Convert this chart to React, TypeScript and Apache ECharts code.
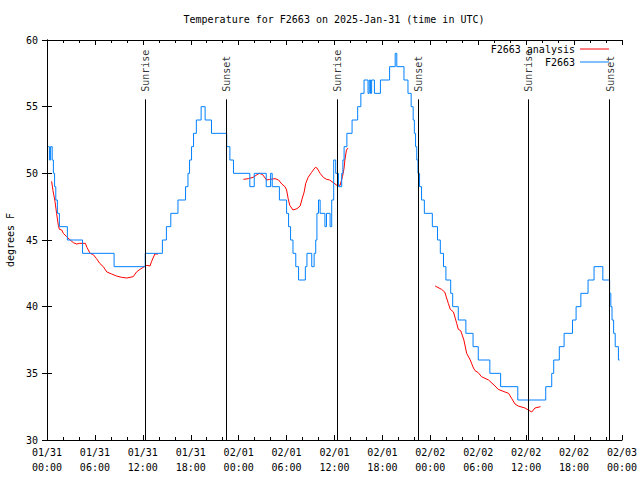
import React, { useEffect, useRef } from "react";
import * as echarts from "echarts";

// ---- Data (hours since 2025-01-31 00:00 UTC) ----
const tickLabels = [
  "01/31\n00:00", "01/31\n06:00", "01/31\n12:00", "01/31\n18:00",
  "02/01\n00:00", "02/01\n06:00", "02/01\n12:00", "02/01\n18:00",
  "02/02\n00:00", "02/02\n06:00", "02/02\n12:00", "02/02\n18:00",
  "02/03\n00:00",
];

const eventHours = [12.27, 22.41, 36.35, 46.5, 60.27, 70.45];
const eventNames = ["Sunrise", "Sunset", "Sunrise", "Sunset", "Sunrise", "Sunset"];

// Observed station temperatures (degrees F), level starts
const stationHours = [
  0.15, 0.3, 0.45, 0.65, 0.8, 0.95, 1.1, 1.3, 1.55, 2.55, 4.45, 8.4, 12.3,
  14.45, 14.95, 15.5, 16.4, 17.35, 17.65, 17.85, 18.1, 18.35, 18.7, 19.3, 19.8,
  20.6, 22.5, 22.9, 23.35, 25.4, 25.95, 27.45, 28.0, 28.2, 29.1, 30.0, 30.25,
  30.5, 30.8, 31.15, 31.5, 32.35, 32.55, 33.15, 33.45, 33.65, 33.8, 34.0, 34.2,
  34.8, 35.0, 35.45, 35.65, 35.9, 36.15, 36.5, 36.9, 37.05, 37.2, 37.55, 38.2,
  38.9, 39.3, 39.7, 40.2, 40.35, 40.5, 40.65, 41.0, 41.75, 42.9, 43.6, 43.8,
  44.7, 45.2, 45.6, 45.85, 46.0, 46.15, 46.3, 46.45, 46.65, 46.9, 47.25, 48.25,
  48.9, 49.25, 49.65, 49.95, 50.55, 50.8, 51.5, 52.45, 53.35, 54.0, 55.45, 56.8,
  58.95, 62.45, 63.2, 63.45, 64.15, 64.75, 65.8, 66.25, 66.85, 67.75, 68.5,
  69.6, 70.45, 70.6, 70.75, 70.95, 71.15, 71.55, 71.7,
];
const stationTemps = [
  52, 51, 52, 51, 50, 49, 48, 47, 46, 45, 44, 43, 44,
  45, 46, 47, 48, 49, 50, 51, 52, 53, 54, 55, 54,
  53, 52, 51, 50, 49, 50, 49, 50, 49, 48, 47, 46,
  45, 44, 43, 42, 43, 44, 43, 44, 45, 47, 48, 47,
  46, 47, 46, 48, 51, 50, 49, 50, 51, 52, 53, 54,
  55, 56, 57, 56, 57, 56, 57, 56, 57, 58, 59, 58,
  57, 56, 55, 54, 53, 52, 51, 50, 49, 48, 47, 46,
  45, 44, 43, 42, 41, 40, 39, 38, 37, 36, 35, 34,
  33, 34, 35, 36, 37, 38, 39, 40, 41, 42, 43,
  42, 41, 40, 39, 38, 37, 36, 36,
];

// Analysis temperatures, three separate runs
const analysisRun1: [number, number][] = [
  [0.58, 49.4], [0.75, 48.7], [1.0, 47.9], [1.2, 47.0], [1.42, 46.1], [1.55, 45.8],
  [1.84, 45.75], [2.05, 45.5], [2.46, 45.25], [2.9, 45.0], [3.3, 44.8], [3.7, 44.7],
  [4.1, 44.75], [4.8, 44.75], [5.0, 44.45], [5.4, 44.0], [5.8, 43.9], [6.2, 43.6],
  [6.6, 43.25], [7.05, 43.0], [7.5, 42.6], [8.1, 42.45], [8.7, 42.3], [9.35, 42.2],
  [10.0, 42.15], [10.8, 42.25], [11.2, 42.6], [11.65, 42.8], [12.05, 42.95],
  [12.5, 43.1], [12.9, 43.05], [13.1, 43.4], [13.5, 43.95], [13.9, 43.95],
];
const analysisRun2: [number, number][] = [
  [24.6, 49.55], [25.2, 49.6], [25.8, 49.7], [26.3, 49.9], [26.6, 50.0], [27.0, 49.9],
  [27.5, 49.5], [27.9, 49.55], [28.55, 49.6], [29.0, 49.5], [29.4, 49.2], [29.8, 49.0],
  [30.0, 48.75], [30.2, 48.1], [30.4, 47.6], [30.8, 47.25], [31.3, 47.35], [31.7, 47.55],
  [31.9, 48.0], [32.2, 48.6], [32.4, 49.25], [32.7, 49.7], [33.1, 50.05], [33.6, 50.45],
  [33.8, 50.4], [34.2, 50.0], [34.6, 49.7], [35.0, 49.55], [35.4, 49.5], [35.85, 49.3],
  [36.3, 49.1], [36.7, 49.1], [37.0, 49.75], [37.2, 50.4], [37.3, 51.0], [37.5, 51.75],
  [37.7, 51.9],
];
const analysisRun3: [number, number][] = [
  [48.6, 41.55], [49.4, 41.3], [49.8, 41.1], [50.25, 40.25], [50.5, 39.8], [50.9, 39.6],
  [51.3, 38.75], [51.5, 38.3], [51.8, 38.2], [52.2, 37.5], [52.55, 36.5], [53.0, 36.0],
  [53.4, 35.4], [53.6, 35.2], [54.0, 35.05], [54.4, 34.75], [55.3, 34.5], [56.1, 34.05],
  [56.5, 33.8], [57.35, 33.6], [57.8, 33.5], [58.2, 33.1], [58.6, 32.7], [59.0, 32.55],
  [59.85, 32.4], [60.7, 32.1], [61.1, 32.4], [61.8, 32.5],
];

const FONT = "'DejaVu Sans Mono', 'Liberation Mono', monospace";

export default function App() {
  const ref = useRef<HTMLDivElement>(null);

  useEffect(() => {
    if (!ref.current) return;
    const chart = echarts.init(ref.current, null, { renderer: "svg" });

    const stationData = stationHours.map((h, i) => [h, stationTemps[i]]);
    const analysisData: any[] = [
      ...analysisRun1,
      [19, null],
      ...analysisRun2,
      [43, null],
      ...analysisRun3,
    ];
    const lineTop = 55.55;

    const txt = { fontFamily: FONT, fontSize: 10, color: "#000" };
    const black = { color: "#000", width: 1 };

    const xCommon = {
      type: "value" as const,
      min: 0,
      max: 72,
      interval: 6,
      splitLine: { show: false },
      axisLine: { show: true, lineStyle: black },
      axisTick: { show: true, inside: true, length: 5, lineStyle: black },
      minorTick: { show: true, splitNumber: 3, length: 3, lineStyle: black },
    };
    const yCommon = {
      type: "value" as const,
      min: 30,
      max: 60,
      interval: 5,
      splitLine: { show: false },
      axisLine: { show: true, lineStyle: black },
      axisTick: { show: true, inside: true, length: 5, lineStyle: black },
    };

    chart.setOption({
      animation: false,
      backgroundColor: "#ffffff",
      textStyle: { fontFamily: FONT },
      title: {
        text: "Temperature for F2663 on 2025-Jan-31 (time in UTC)",
        left: 334,
        top: 14,
        padding: 0,
        textAlign: "center",
        textStyle: { ...txt, fontWeight: "normal" },
      },
      legend: {
        data: ["F2663 analysis", "F2663"],
        orient: "vertical",
        align: "right",
        right: 31,
        top: 43,
        padding: 0,
        itemGap: 1,
        itemWidth: 29,
        itemHeight: 1,
        icon: "rect",
        textStyle: { ...txt, lineHeight: 12 },
      },
      grid: { left: 47, right: 18, top: 40, bottom: 40, containLabel: false, outerBoundsMode: "none" },
      xAxis: [
        {
          ...xCommon,
          position: "bottom",
          axisLabel: {
            ...txt,
            margin: 5,
            lineHeight: 15,
            formatter: (v: number) => tickLabels[Math.round(v / 6)] ?? "",
          },
        },
        { ...xCommon, position: "top", axisLabel: { show: false } },
      ],
      yAxis: [
        {
          ...yCommon,
          position: "left",
          name: "degrees F",
          nameLocation: "middle",
          nameGap: 30,
          nameTextStyle: txt,
          axisLabel: { ...txt, margin: 9 },
        },
        { ...yCommon, position: "right", axisLabel: { show: false } },
      ],
      series: [
        {
          name: "events",
          type: "scatter",
          z: 1,
          symbolSize: 1,
          itemStyle: { color: "rgba(0,0,0,0)" },
          silent: true,
          data: eventHours.map((h, i) => ({ value: [h, lineTop], name: eventNames[i] })),
          label: {
            show: true,
            formatter: "{b}",
            position: [1, -7],
            rotate: 90,
            align: "left",
            verticalAlign: "middle",
            ...txt,
          },
          markLine: {
            silent: true,
            symbol: ["none", "none"],
            label: { show: false },
            lineStyle: { color: "#000", width: 1, type: "solid" },
            data: eventHours.map((h) => [{ coord: [h, lineTop] }, { coord: [h, 30] }]),
          },
        },
        {
          name: "F2663 analysis",
          type: "line",
          z: 2,
          data: analysisData,
          connectNulls: false,
          symbol: "none",
          showSymbol: false,
          lineStyle: { color: "#ff0000", width: 1 },
          itemStyle: { color: "#ff0000" },
        },
        {
          name: "F2663",
          type: "line",
          z: 3,
          step: "end",
          data: stationData,
          symbol: "none",
          showSymbol: false,
          lineStyle: { color: "#0080ff", width: 1 },
          itemStyle: { color: "#0080ff" },
        },
      ],
    });

    return () => chart.dispose();
  }, []);

  return (
    <div
      ref={ref}
      style={{ position: "absolute", left: 0, top: 0, width: 640, height: 480, background: "#fff" }}
    />
  );
}
